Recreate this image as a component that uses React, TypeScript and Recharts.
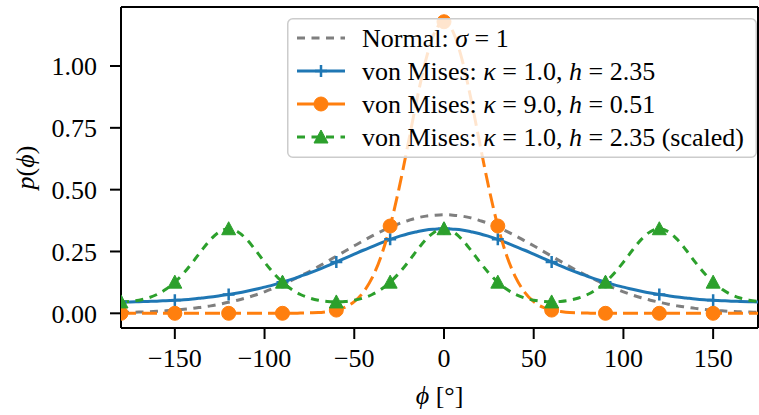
import { LineChart, Line, XAxis, YAxis, Legend, ReferenceLine } from "recharts";

// angles in degrees, 5 deg steps
const angles = [
  -180, -175, -170, -165, -160, -155, -150, -145, -140, -135, -130, -125,
  -120, -115, -110, -105, -100, -95, -90, -85, -80, -75, -70, -65,
  -60, -55, -50, -45, -40, -35, -30, -25, -20, -15, -10, -5,
  0, 5, 10, 15, 20, 25, 30, 35, 40, 45, 50, 55,
  60, 65, 70, 75, 80, 85, 90, 95, 100, 105, 110, 115,
  120, 125, 130, 135, 140, 145, 150, 155, 160, 165, 170, 175,
];

const normal = [
  0.003, 0.004, 0.005, 0.006, 0.008, 0.010, 0.013, 0.016, 0.020, 0.025, 0.030, 0.037,
  0.045, 0.053, 0.063, 0.074, 0.087, 0.101, 0.116, 0.133, 0.151, 0.169, 0.189, 0.210,
  0.231, 0.252, 0.273, 0.293, 0.313, 0.331, 0.348, 0.363, 0.375, 0.386, 0.393, 0.397,
  0.399, 0.397, 0.393, 0.386, 0.375, 0.363, 0.348, 0.331, 0.313, 0.293, 0.273, 0.252,
  0.231, 0.210, 0.189, 0.169, 0.151, 0.133, 0.116, 0.101, 0.087, 0.074, 0.063, 0.053,
  0.045, 0.037, 0.030, 0.025, 0.020, 0.016, 0.013, 0.010, 0.008, 0.006, 0.005, 0.004,
];

const vonMisesK1 = [
  0.046, 0.046, 0.047, 0.048, 0.049, 0.051, 0.053, 0.055, 0.058, 0.062, 0.066, 0.071,
  0.076, 0.082, 0.089, 0.097, 0.106, 0.115, 0.126, 0.137, 0.150, 0.163, 0.177, 0.192,
  0.207, 0.223, 0.239, 0.255, 0.270, 0.285, 0.299, 0.311, 0.322, 0.330, 0.337, 0.340,
  0.342, 0.340, 0.337, 0.330, 0.322, 0.311, 0.299, 0.285, 0.270, 0.255, 0.239, 0.223,
  0.207, 0.192, 0.177, 0.163, 0.150, 0.137, 0.126, 0.115, 0.106, 0.097, 0.089, 0.082,
  0.076, 0.071, 0.066, 0.062, 0.058, 0.055, 0.053, 0.051, 0.049, 0.048, 0.047, 0.046,
];

const vonMisesK9 = [
  0, 0, 0, 0, 0, 0, 0, 0, 0, 0, 0, 0,
  0, 0, 0, 0, 0, 0, 0, 0, 0.001, 0.002, 0.003, 0.007,
  0.013, 0.025, 0.047, 0.085, 0.144, 0.232, 0.353, 0.507, 0.685, 0.868, 1.028, 1.139,
  1.179, 1.139, 1.028, 0.868, 0.685, 0.507, 0.353, 0.232, 0.144, 0.085, 0.047, 0.025,
  0.013, 0.007, 0.003, 0.002, 0.001, 0, 0, 0, 0, 0, 0, 0,
  0, 0, 0, 0, 0, 0, 0, 0, 0, 0, 0, 0,
];

const vonMisesScaled = [
  0.046, 0.048, 0.053, 0.062, 0.076, 0.097, 0.126, 0.163, 0.207, 0.255, 0.299, 0.330,
  0.342, 0.330, 0.299, 0.255, 0.207, 0.163, 0.126, 0.097, 0.076, 0.062, 0.053, 0.048,
  0.046, 0.048, 0.053, 0.062, 0.076, 0.097, 0.126, 0.163, 0.207, 0.255, 0.299, 0.330,
  0.342, 0.330, 0.299, 0.255, 0.207, 0.163, 0.126, 0.097, 0.076, 0.062, 0.053, 0.048,
  0.046, 0.048, 0.053, 0.062, 0.076, 0.097, 0.126, 0.163, 0.207, 0.255, 0.299, 0.330,
  0.342, 0.330, 0.299, 0.255, 0.207, 0.163, 0.126, 0.097, 0.076, 0.062, 0.053, 0.048,
];

const xTicks = [-150, -100, -50, 0, 50, 100, 150];
const yTicks = [0, 0.25, 0.5, 0.75, 1.0];
const xDomain = [-180, 175];
const yDomain = [-0.0594, 1.2386];

const data = angles.map((phi, i) => ({
  phi,
  normal: normal[i],
  vm1: vonMisesK1[i],
  vm9: vonMisesK9[i],
  vmScaled: vonMisesScaled[i],
}));

const FONT = "'Liberation Serif', 'DejaVu Serif', serif";
const FS = 26;
const GRAY = "#7f7f7f";
const BLUE = "#1f77b4";
const ORANGE = "#ff7f0e";
const GREEN = "#2ca02c";
const LW = 3;

// markers every 30 degrees
const isMarked = (p: any) => p && p.phi % 30 === 0;

const plus = (cx: number, cy: number, key?: any) => (
  <path key={key} d={`M${cx - 6},${cy}h12M${cx},${cy - 6}v12`} stroke={BLUE} strokeWidth={2.5} fill="none" />
);
const circle = (cx: number, cy: number, key?: any) => (
  <circle key={key} cx={cx} cy={cy} r={7} fill={ORANGE} stroke={ORANGE} />
);
const triangle = (cx: number, cy: number, key?: any) => (
  <path key={key} d={`M${cx},${cy - 7}L${cx + 7},${cy + 6}L${cx - 7},${cy + 6}Z`} fill={GREEN} stroke={GREEN} />
);

const PlusDot = (props: any) =>
  isMarked(props.payload) ? plus(props.cx, props.cy, `p${props.index}`) : <g key={`p${props.index}`} />;
const CircleDot = (props: any) =>
  isMarked(props.payload) ? circle(props.cx, props.cy, `c${props.index}`) : <g key={`c${props.index}`} />;
const TriangleDot = (props: any) =>
  isMarked(props.payload) ? triangle(props.cx, props.cy, `t${props.index}`) : <g key={`t${props.index}`} />;

const fmtX = (v: number) => (v < 0 ? `\u2212${Math.abs(v)}` : `${v}`);
const fmtY = (v: number) => v.toFixed(2);

const rowY = [20, 53, 86, 119];

const renderLegend = () => (
  <svg width={470} height={140} style={{ display: "block" }}>
    <rect x={0.75} y={0.75} width={468.5} height={138.5} rx={5} fill="rgba(255,255,255,0.8)" stroke="#cccccc" strokeWidth={1.5} />
    <g fontFamily={FONT} fontSize={FS} fill="#000">
      <line x1={10} x2={58} y1={rowY[0]} y2={rowY[0]} stroke={GRAY} strokeWidth={LW} strokeDasharray="8 6.5" />
      <text x={75} y={rowY[0] + 9}>
        Normal: <tspan fontStyle="italic">σ</tspan> = 1
      </text>

      <line x1={10} x2={58} y1={rowY[1]} y2={rowY[1]} stroke={BLUE} strokeWidth={LW} />
      {plus(34, rowY[1])}
      <text x={75} y={rowY[1] + 9}>
        von Mises: <tspan fontStyle="italic">κ</tspan> = 1.0, <tspan fontStyle="italic">h</tspan> = 2.35
      </text>

      <line x1={10} x2={58} y1={rowY[2]} y2={rowY[2]} stroke={ORANGE} strokeWidth={LW} />
      {circle(34, rowY[2])}
      <text x={75} y={rowY[2] + 9}>
        von Mises: <tspan fontStyle="italic">κ</tspan> = 9.0, <tspan fontStyle="italic">h</tspan> = 0.51
      </text>

      <line x1={10} x2={58} y1={rowY[3]} y2={rowY[3]} stroke={GREEN} strokeWidth={LW} strokeDasharray="8 6.5" />
      {triangle(34, rowY[3])}
      <text x={75} y={rowY[3] + 9}>
        von Mises: <tspan fontStyle="italic">κ</tspan> = 1.0, <tspan fontStyle="italic">h</tspan> = 2.35 (scaled)
      </text>
    </g>
  </svg>
);

const XTitle = (props: any) => {
  const vb = props.viewBox;
  return (
    <text x={vb.x + vb.width / 2} y={404} textAnchor="middle" fontFamily={FONT} fontSize={FS} fill="#000">
      <tspan fontStyle="italic">ϕ</tspan> [°]
    </text>
  );
};

const YTitle = (props: any) => {
  const vb = props.viewBox;
  const cy = vb.y + vb.height / 2;
  return (
    <text x={34} y={cy} textAnchor="middle" transform={`rotate(-90, 34, ${cy})`} fontFamily={FONT} fontSize={FS} fill="#000">
      <tspan fontStyle="italic">p</tspan>(<tspan fontStyle="italic">ϕ</tspan>)
    </text>
  );
};

const tickStyle = { fontFamily: FONT, fontSize: FS, fill: "#000" };

export default function App() {
  return (
    <div style={{ position: "absolute", left: 0, top: 0, background: "#fff" }}>
      <LineChart width={759} height={415} data={data} margin={{ top: 7, right: 1, bottom: 0, left: 0 }}>
        <XAxis
          dataKey="phi"
          type="number"
          domain={xDomain}
          allowDataOverflow
          ticks={xTicks}
          tickFormatter={fmtX}
          height={87}
          tickSize={11}
          tickMargin={10}
          tick={tickStyle}
          axisLine={{ stroke: "#000", strokeWidth: 2 }}
          tickLine={{ stroke: "#000", strokeWidth: 2 }}
          label={<XTitle />}
        />
        <YAxis
          type="number"
          domain={yDomain}
          allowDataOverflow
          ticks={yTicks}
          tickFormatter={fmtY}
          width={121}
          tickSize={11}
          tickMargin={13}
          tick={tickStyle}
          axisLine={{ stroke: "#000", strokeWidth: 2 }}
          tickLine={{ stroke: "#000", strokeWidth: 2 }}
          label={<YTitle />}
        />
        {/* top and right spines */}
        <ReferenceLine y={yDomain[1]} stroke="#000" strokeWidth={2} ifOverflow="visible" />
        <ReferenceLine x={xDomain[1]} stroke="#000" strokeWidth={2} ifOverflow="visible" />
        <Line type="monotone" dataKey="normal" stroke={GRAY} strokeWidth={LW} strokeDasharray="8 6.5" dot={false} activeDot={false} isAnimationActive={false} />
        <Line type="monotone" dataKey="vm1" stroke={BLUE} strokeWidth={LW} dot={PlusDot} activeDot={false} isAnimationActive={false} />
        <Line type="monotone" dataKey="vm9" stroke={ORANGE} strokeWidth={LW} strokeDasharray="15 6" dot={CircleDot} activeDot={false} isAnimationActive={false} />
        <Line type="monotone" dataKey="vmScaled" stroke={GREEN} strokeWidth={LW} strokeDasharray="8 6.5" dot={TriangleDot} activeDot={false} isAnimationActive={false} />
        <Legend
          layout="vertical"
          align="center"
          verticalAlign="middle"
          content={renderLegend}
          wrapperStyle={{ left: 287, top: 18, width: 470, height: 140 }}
        />
      </LineChart>
    </div>
  );
}
